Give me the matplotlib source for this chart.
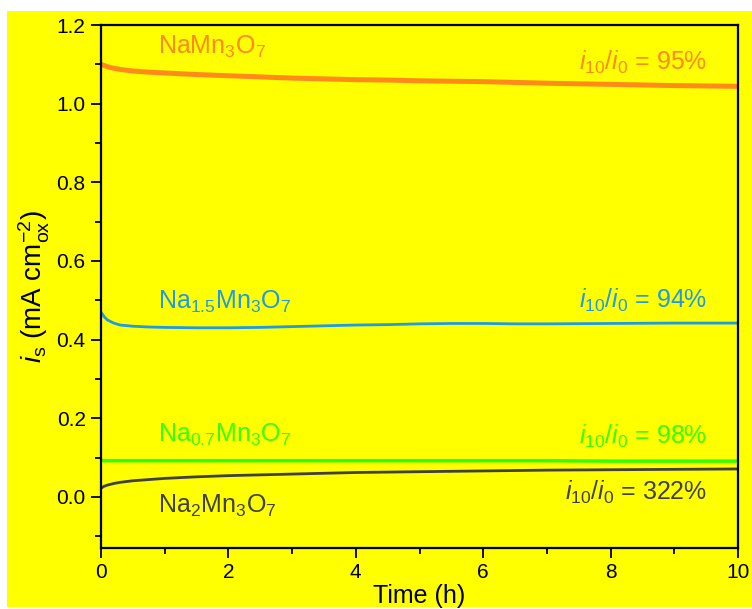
import matplotlib.pyplot as plt
from matplotlib.patches import Rectangle

plt.rcParams['font.family'] = ['Liberation Sans', 'DejaVu Sans']
plt.rcParams['mathtext.fontset'] = 'custom'
plt.rcParams['mathtext.rm'] = 'Liberation Sans'
plt.rcParams['mathtext.it'] = 'Liberation Sans:italic'

# time axis (h) and stability currents (mA cm-2 ox)
time_h = [0, 0.05, 0.1, 0.2, 0.3, 0.5, 0.75, 1, 1.5, 2, 2.5, 3, 3.5, 4, 4.5, 5, 5.5, 6, 6.5, 7, 8, 9, 10]
na1 = [1.100, 1.097, 1.094, 1.090, 1.087, 1.083, 1.080, 1.078, 1.074, 1.071, 1.068, 1.065, 1.063, 1.061,
       1.060, 1.058, 1.057, 1.056, 1.054, 1.052, 1.049, 1.046, 1.044]
na15 = [0.470, 0.458, 0.450, 0.442, 0.437, 0.434, 0.432, 0.431, 0.430, 0.430, 0.431, 0.433, 0.435, 0.437,
        0.438, 0.440, 0.441, 0.441, 0.440, 0.440, 0.441, 0.442, 0.442]
na07 = [0.093, 0.092, 0.092, 0.092, 0.092, 0.092, 0.092, 0.092, 0.092, 0.092, 0.092, 0.092, 0.092, 0.092,
        0.092, 0.092, 0.092, 0.092, 0.092, 0.092, 0.091, 0.091, 0.091]
na2 = [0.022, 0.027, 0.030, 0.034, 0.037, 0.041, 0.044, 0.047, 0.051, 0.054, 0.056, 0.058, 0.060, 0.062,
       0.063, 0.064, 0.065, 0.066, 0.067, 0.068, 0.069, 0.070, 0.071]

names = ['NaMn$_3$O$_7$', 'Na$_{1.5}$Mn$_3$O$_7$', 'Na$_{0.7}$Mn$_3$O$_7$', 'Na$_2$Mn$_3$O$_7$']
ratios = ['95%', '94%', '98%', '322%']
colors = ['#ff8a1a', '#1e9be6', '#33ff00', '#404040']
series = [na1, na15, na07, na2]
widths = [3.6, 2.0, 2.5, 2.0]
# label heights in data units
name_y = [1.144, 0.497, 0.157, -0.024]
ratio_y = [1.106, 0.500, 0.153, 0.012]

fig = plt.figure(figsize=(7.52, 6.09), dpi=100)
fig.patches.append(Rectangle((7 / 752, 2 / 609), 1, 1 - 13 / 609, transform=fig.transFigure,
                             facecolor='#ffff00', edgecolor='none', zorder=-10))
ax = fig.add_axes([101 / 752, 1 - 548 / 609, 637 / 752, 523 / 609])
ax.set_facecolor('#ffff00')

for y, c, lw in zip(series, colors, widths):
    ax.plot(time_h, y, color=c, lw=lw, solid_capstyle='butt')

for nm, r, c, ny, ry in zip(names, ratios, colors, name_y, ratio_y):
    ax.text(0.89, ny, nm, color=c, fontsize=18, ha='left', va='center')
    ax.text(9.52, ry, r'$i_{10}/i_{0}$ = ' + r, color=c, fontsize=18, ha='right', va='center')

ax.set_xlim(0, 10)
ax.set_ylim(-0.13, 1.2)
ax.set_xticks([0, 2, 4, 6, 8, 10])
ax.set_xticks([1, 3, 5, 7, 9], minor=True)
ax.set_yticks([0.0, 0.2, 0.4, 0.6, 0.8, 1.0, 1.2])
ax.set_yticks([-0.1, 0.1, 0.3, 0.5, 0.7, 0.9, 1.1], minor=True)
ax.yaxis.set_major_formatter(plt.FormatStrFormatter('%.1f'))
ax.tick_params(which='major', direction='out', length=7, width=1.3, labelsize=15, pad=4)
ax.tick_params(which='minor', direction='out', length=4, width=1.3)
for s in ax.spines.values():
    s.set_linewidth(1.6)

ax.set_xlabel('Time (h)', fontsize=18, labelpad=1)
ax.set_ylabel(r'$i_\mathrm{s}$ (mA cm$^{-2}_{\mathrm{ox}}$)', fontsize=20, labelpad=3)

fig.savefig('out.png', dpi=100)
